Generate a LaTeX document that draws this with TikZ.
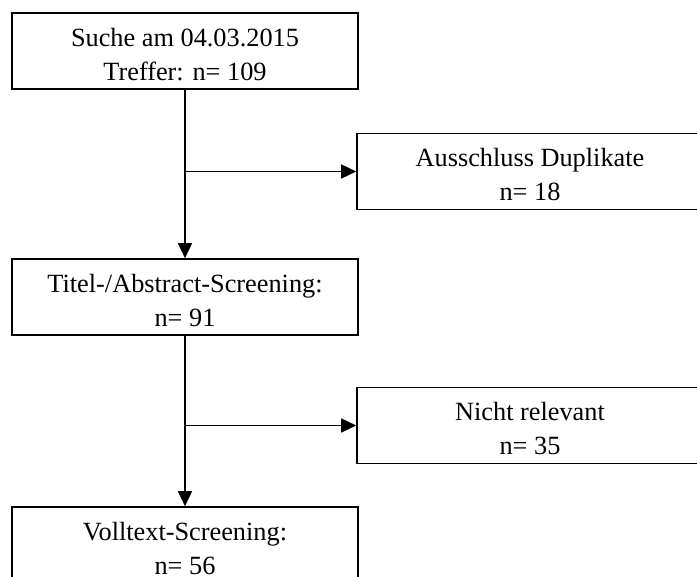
\documentclass[tikz,border=0pt]{standalone}
\usepackage{fontspec}
\setmainfont{Liberation Serif}
\usetikzlibrary{arrows.meta}
\newcommand{\highstrut}{\rule{0pt}{25pt}}
\begin{document}
\begin{tikzpicture}[x=1pt,y=-1pt,
  box/.style={draw, line width=1.6pt, minimum width=346pt, minimum height=76pt, inner sep=0pt, align=center,
    font=\fontsize{26.3}{34}\selectfont},
  arr/.style={line width=1.6pt, -{Triangle[length=15pt,width=14pt]}}]
\path[use as bounding box] (0,0) rectangle (697,577);
\clip (0,0) rectangle (697,577);
\node[box] (b1) at (185,51) {\highstrut Suche am 04.03.2015\\Treffer: n= 109};
\node[box] (b2) at (530,171.5) {\highstrut Ausschluss Duplikate\\n= 18};
\node[box] (b3) at (185,297) {\highstrut Titel-/Abstract-Screening:\\n= 91};
\node[box] (b4) at (530,425.5) {\highstrut Nicht relevant\\n= 35};
\node[box] (b5) at (185,545) {\highstrut Volltext-Screening:\\n= 56};
\draw[arr] (b1.south) -- (b3.north);
\draw[arr] (b3.south) -- (b5.north);
\draw[arr] (b1.south |- b2.west) -- (b2.west);
\draw[arr] (b3.south |- b4.west) -- (b4.west);
\end{tikzpicture}
\end{document}
